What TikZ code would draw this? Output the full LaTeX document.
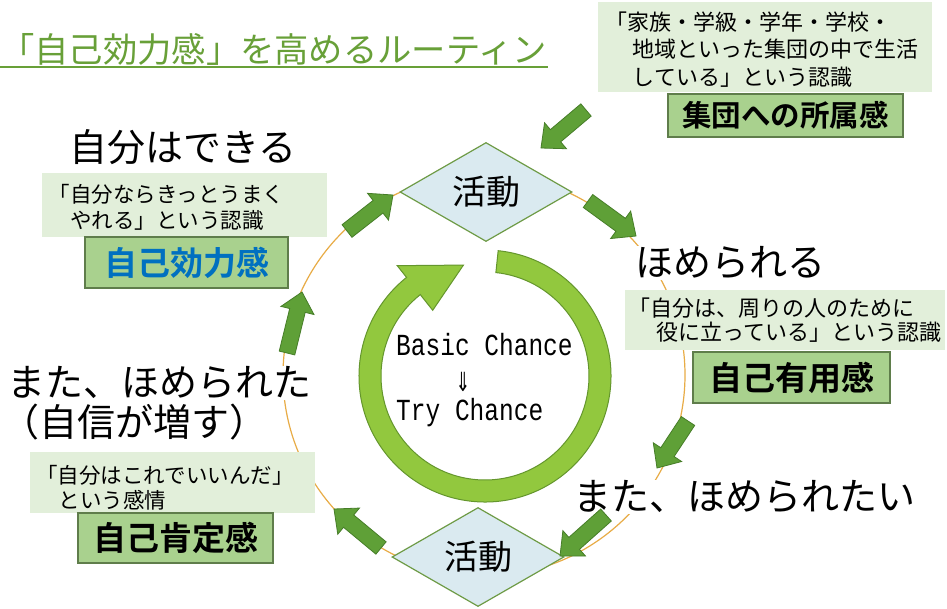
\documentclass[tikz,border=0pt]{standalone}
\usepackage{fontspec}
\usetikzlibrary{shapes.geometric,calc}
\newfontfamily\jp{Noto Sans CJK JP}[BoldFont={Noto Sans CJK JP Bold}]
\newfontfamily\monof{Liberation Mono}
\newfontfamily\dejavu{DejaVu Sans}
\definecolor{titlegreen}{RGB}{104,160,56}
\definecolor{lightgreen}{RGB}{226,239,218}
\definecolor{midgreen}{RGB}{169,209,142}
\definecolor{boxborder}{RGB}{95,125,75}
\definecolor{diafill}{RGB}{218,234,240}
\definecolor{diaborder}{RGB}{110,155,70}
\definecolor{arrfill}{RGB}{95,160,55}
\definecolor{arrborder}{RGB}{70,125,40}
\definecolor{ringfill}{RGB}{146,200,62}
\definecolor{ringborder}{RGB}{100,150,45}
\definecolor{orangeline}{RGB}{232,172,70}
\definecolor{bluetext}{RGB}{0,112,192}
\newcommand{\garrow}[2]{%
  \coordinate (gH) at ($(#2)!19pt!(#1)$);
  \draw[blockarrow] ($(#1)!8pt!90:(#2)$) -- ($(gH)!8pt!-90:(#1)$) -- ($(gH)!17pt!-90:(#1)$) -- (#2) -- ($(gH)!17pt!90:(#1)$) -- ($(gH)!8pt!90:(#1)$) -- ($(#1)!8pt!-90:(#2)$) -- cycle;}
\begin{document}
\begin{tikzpicture}[x=1pt,y=-1pt,
  titletext/.style={font=\jp\fontsize{34.3}{34.3}\selectfont, text=titlegreen, inner sep=0},
  bigtext/.style={font=\jp\fontsize{38}{38}\selectfont, fill=white, inner sep=1pt, anchor=west},
  lbox/.style={rectangle, fill=lightgreen, draw=none, inner sep=0},
  smalltext/.style={font=\jp\fontsize{22}{26}\selectfont, align=left, inner sep=0, anchor=west},
  mbox/.style={rectangle, fill=midgreen, draw=boxborder, line width=1.2pt, inner sep=0, font=\jp\bfseries\fontsize{33}{33}\selectfont},
  act/.style={diamond, aspect=1.74, fill=diafill, draw=diaborder, line width=1.2pt, inner sep=0, minimum width=172, minimum height=99, font=\jp\fontsize{34}{34}\selectfont},
  blockarrow/.style={fill=arrfill, draw=arrborder, line width=0.8pt, line join=miter},
  monotext/.style={font=\monof\fontsize{24.5}{24.5}\selectfont, inner sep=0, anchor=west}
]
\useasboundingbox (0,0) rectangle (947,608);
\fill[white] (0,0) rectangle (947,608);

% thin orange circle
\coordinate (oc) at (484,375);
\draw[orangeline, line width=1.2pt] (oc) circle[radius=201];

% title
\node[titletext, anchor=west] (title) at (0,49) {「自己効力感」を高めるルーティン};
\draw[titlegreen, line width=2pt] (0,67) -- (548,67);

% big labels
\node[bigtext] (dekiru) at (68,147) {自分はできる};
\node[bigtext] (homerareru) at (634,263) {ほめられる};
\node[bigtext] (matahomerareta) at (6,383) {また、ほめられた};
\node[bigtext] (jishin) at (0,422) {（自信が増す）};
\node[bigtext] (matahomeraretai) at (572,497) {また、ほめられたい};

% light boxes with texts
\node[lbox, minimum width=334, minimum height=90] (trbox) at (765,47) {};
\node[smalltext, font=\jp\fontsize{22}{27.5}\selectfont] (trtext) at (605,49.5) {「家族・学級・学年・学校・\\\hspace*{1.25em}地域といった集団の中で生活\\\hspace*{1.25em}している」という認識};

\node[lbox, minimum width=285, minimum height=64] (ltbox) at (184.5,205) {};
\node[smalltext, font=\jp\fontsize{21.5}{26}\selectfont] (lttext) at (48.5,207) {「自分ならきっとうまく\\\hspace*{1em}やれる」という認識};

\node[lbox, minimum width=320, minimum height=60] (rbox) at (785,320) {};
\node[smalltext, font=\jp\fontsize{22}{24}\selectfont] (rtext) at (628,320) {「自分は、周りの人のために\\\hspace*{1.3em}役に立っている」という認識};

\node[lbox, minimum width=285, minimum height=61] (lbbox) at (172.5,482.5) {};
\node[smalltext, font=\jp\fontsize{21.5}{25}\selectfont] (lbtext) at (36,487.5) {「自分はこれでいいんだ」\\\hspace*{1.05em}という感情};

% mid boxes
\node[mbox, minimum width=235, minimum height=43, font=\jp\bfseries\fontsize{29.5}{29.5}\selectfont] (shozoku) at (785.5,115.5) {集団への所属感};
\node[mbox, minimum width=203, minimum height=51, text=bluetext] (koryoku) at (186.5,262.5) {自己効力感};
\node[mbox, minimum width=197, minimum height=51] (yuyo) at (791.5,377.5) {自己有用感};
\node[mbox, minimum width=195, minimum height=50] (kotei) at (175.5,538) {自己肯定感};

% diamonds
\node[act] (act1) at (486,192) {活動};
\node[act] (act2) at (478,557) {活動};

% block arrows
\coordinate (a1t) at (586,110); \coordinate (a1h) at (541,148);
\coordinate (a2t) at (588,201); \coordinate (a2h) at (636,236);
\coordinate (a3t) at (688,421); \coordinate (a3h) at (657,468);
\coordinate (a4t) at (606,515); \coordinate (a4h) at (560,556);
\coordinate (a5t) at (381,548); \coordinate (a5h) at (334,509);
\coordinate (a6t) at (287,353); \coordinate (a6h) at (302,292);
\coordinate (a7t) at (347,231); \coordinate (a7h) at (393,195);
\garrow{a1t}{a1h}
\garrow{a2t}{a2h}
\garrow{a3t}{a3h}
\garrow{a4t}{a4h}
\garrow{a5t}{a5h}
\garrow{a6t}{a6h}
\garrow{a7t}{a7h}

% circular arrow
\coordinate (rc) at (485,376);
\draw[fill=ringfill, draw=ringborder, line width=1pt, line join=miter]
  ($(rc)+(-84:126)$) arc[start angle=-84, end angle=231.5, radius=126]
  -- ($(rc)+(231.5:141)$) -- ($(rc)+(259:113)$) -- ($(rc)+(231.5:84)$)
  -- ($(rc)+(231.5:104)$) arc[start angle=231.5, end angle=-84, radius=104] -- cycle;

% central text
\node[monotext] (basic) at (396,345) {\scalebox{1}[1.25]{Basic Chance}};
\node[inner sep=0, font=\dejavu\fontsize{22}{22}\selectfont] (down) at (463,382) {\scalebox{0.8}[1.2]{⇓}};
\node[monotext] (try) at (396,413) {\scalebox{1}[1.25]{Try Chance}};
\end{tikzpicture}
\end{document}
